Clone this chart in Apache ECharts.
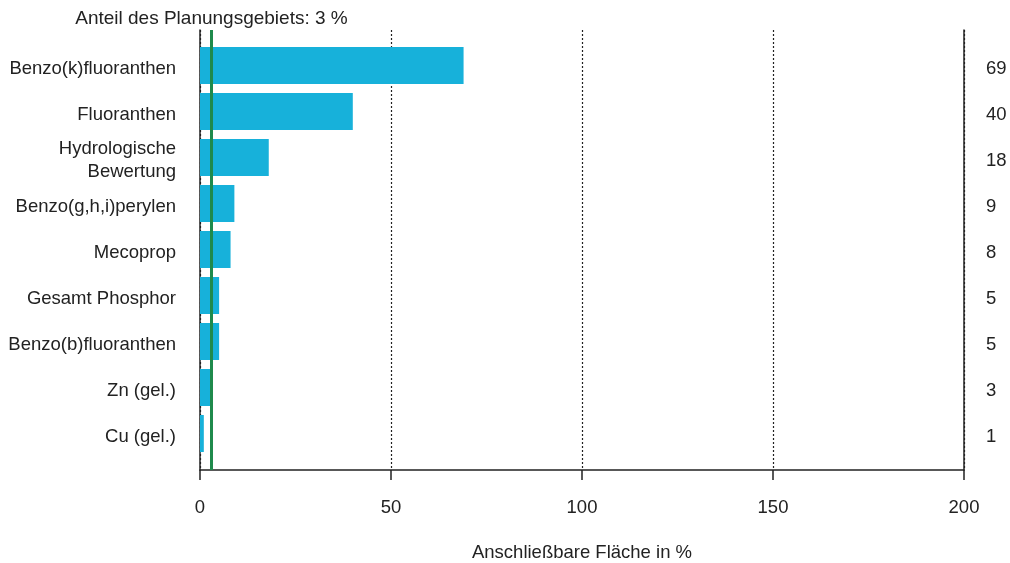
<!DOCTYPE html>
<html>
<head>
<meta charset="utf-8">
<script src="https://cdn.jsdelivr.net/npm/echarts@6/dist/echarts.min.js"></script>
<style>
html, body { margin: 0; padding: 0; background: #fff; }
#chart { width: 1010px; height: 563px; }
</style>
</head>
<body>
<div id="chart"></div>
<script>
// Parameter, von oben nach unten
var categories = ['Benzo(k)fluoranthen', 'Fluoranthen', 'Hydrologische\nBewertung', 'Benzo(g,h,i)perylen',
    'Mecoprop', 'Gesamt Phosphor', 'Benzo(b)fluoranthen', 'Zn (gel.)', 'Cu (gel.)'];
// anschließbare Fläche in %
var values = [69, 40, 18, 9, 8, 5, 5, 3, 1];
var xTicks = [0, 50, 100, 150, 200];
var planShare = 3;   // Anteil des Planungsgebiets

var textColor = '#222';
var font = 'Liberation Sans, Arial, sans-serif';

var option = {
    animation: false,
    textStyle: {fontFamily: font},
    grid: [
        {left: 200, right: 46, top: 42.5, bottom: 106.5, outerBoundsMode: 'none'},   // Balken
        {left: 200, right: 46, top: 30, bottom: 93, outerBoundsMode: 'none'},        // Rahmen
        {left: 200, right: 46, top: 45.5, bottom: 103.5, outerBoundsMode: 'none'}    // Beschriftung
    ],
    xAxis: [
        {gridIndex: 0, type: 'value', min: xTicks[0], max: xTicks[xTicks.length - 1], show: false},
        {
            gridIndex: 1, type: 'value', min: xTicks[0], max: xTicks[xTicks.length - 1], interval: 50,
            axisLine: {show: true, onZero: false, lineStyle: {color: '#222', width: 1.5}},
            axisTick: {show: true, length: 10, lineStyle: {color: '#222', width: 1.5}},
            splitLine: {show: true, lineStyle: {color: '#222', type: [2, 2], width: 1.2}},
            axisLabel: {fontSize: 18.5, color: textColor, margin: 28, fontFamily: font},
            name: 'Anschließbare Fläche in %',
            nameLocation: 'middle',
            nameGap: 73,
            nameTextStyle: {fontSize: 18.5, color: textColor, fontFamily: font}
        },
        {gridIndex: 2, type: 'value', min: xTicks[0], max: xTicks[xTicks.length - 1], show: false}
    ],
    yAxis: [
        {gridIndex: 0, type: 'category', data: categories, inverse: true, show: false},
        {
            gridIndex: 2, type: 'category', data: categories, inverse: true,
            axisLine: {show: false}, axisTick: {show: false},
            axisLabel: {fontSize: 18.5, color: textColor, margin: 24, align: 'right', lineHeight: 23, fontFamily: font}
        },
        {
            gridIndex: 2, type: 'category', data: values.map(String), inverse: true, position: 'right',
            axisLine: {show: false}, axisTick: {show: false},
            axisLabel: {fontSize: 18.5, color: textColor, margin: 22, align: 'left', fontFamily: font}
        },
        {
            gridIndex: 1, type: 'value', min: 0, max: 1, position: 'left',
            axisLine: {show: true, lineStyle: {color: '#222', width: 1.5}},
            axisTick: {show: false}, axisLabel: {show: false}, splitLine: {show: false}
        },
        {
            gridIndex: 1, type: 'value', min: 0, max: 1, position: 'right',
            axisLine: {show: true, lineStyle: {color: '#222', width: 1.5}},
            axisTick: {show: false}, axisLabel: {show: false}, splitLine: {show: false}
        }
    ],
    series: [
        {
            type: 'bar',
            xAxisIndex: 0,
            yAxisIndex: 0,
            data: values,
            barWidth: 37,
            itemStyle: {color: '#17b1da'}
        },
        {
            type: 'scatter',
            xAxisIndex: 1,
            yAxisIndex: 3,
            data: [],
            markLine: {
                silent: true,
                symbol: 'none',
                lineStyle: {color: '#1f8a4c', width: 3, type: 'solid'},
                label: {
                    show: true, position: 'end', distance: 2,
                    formatter: 'Anteil des Planungsgebiets: ' + planShare + ' %',
                    fontSize: 19, color: textColor, fontFamily: font
                },
                data: [{xAxis: planShare}]
            }
        }
    ]
};

var myChart = echarts.init(document.getElementById('chart'));
myChart.setOption(option);
</script>
</body>
</html>
